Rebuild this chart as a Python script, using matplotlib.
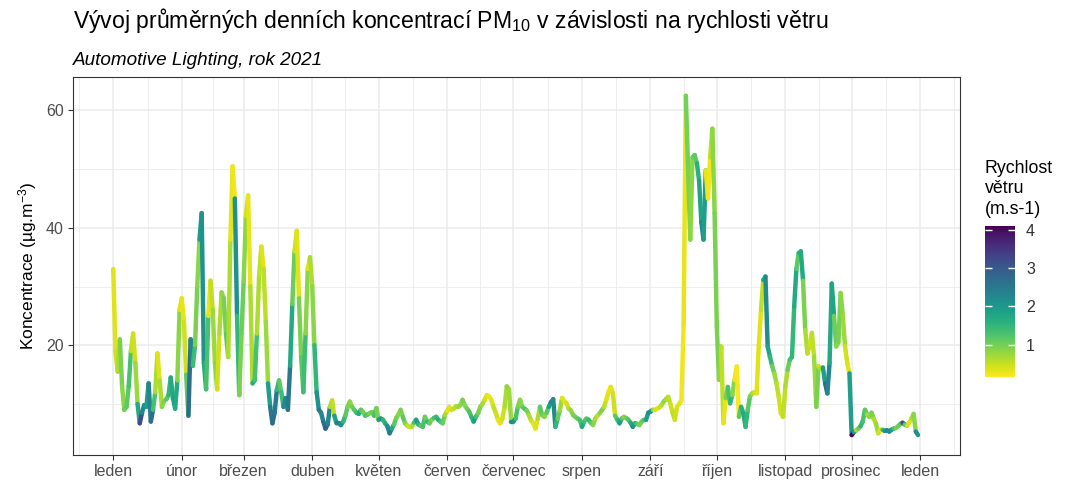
import numpy as np
import matplotlib
matplotlib.use("Agg")
import matplotlib.pyplot as plt
from matplotlib.collections import LineCollection
from matplotlib.colors import Normalize

plt.rcParams['font.family'] = ['Liberation Sans', 'DejaVu Sans']
plt.rcParams['mathtext.fontset'] = 'custom'
plt.rcParams['mathtext.rm'] = 'Liberation Sans'
plt.rcParams['mathtext.it'] = 'Liberation Sans:italic'

# Daily PM10 concentration (ug/m3), 1 Jan 2021 .. 31 Dec 2021
conc = [
    # leden
    33, 19, 15.5, 21, 13, 9, 9.5, 13, 19, 22, 17, 10, 6.7, 8.5, 9.8, 9.5, 13.5, 7, 9, 12,
    18.6, 14, 9.5, 10.5, 10.8, 11.5, 14.5, 11, 9.2, 14, 26,
    # unor
    28, 24, 15, 8, 21, 16.5, 20, 30, 38, 42.5, 17, 12.5, 25, 31, 26, 17, 12.5, 22, 29, 28,
    22, 18, 38, 50.5, 45, 25, 11.5, 22,
    # brezen
    31, 42, 45.5, 30, 13.5, 14, 22, 32, 36.8, 33, 24, 13.5, 9.5, 6.7, 8.5, 12.4, 14, 12, 9.5, 11,
    9, 16.5, 27, 36, 39.5, 28, 18, 12, 22, 33, 35,
    # duben
    30, 20, 12, 9, 8.5, 7, 5.8, 6.5, 9.5, 10.6, 8, 6.7, 6.7, 6.4, 7, 8, 9.5, 10.4, 9.5, 9,
    8.5, 8.3, 9, 8.6, 8.0, 8.2, 8.4, 8.6, 8.0, 9.3,
    # kveten
    7.3, 7.5, 7.3, 6.7, 6.2, 5.0, 5.8, 6.5, 7.6, 8.2, 9.0, 7.8, 6.7, 6.3, 6.1, 6.1, 6.8, 7.3, 6.5, 6.3,
    6.1, 7.8, 7.0, 6.7, 7.3, 7.6, 7.8, 7.3, 7.0, 6.7, 8.1,
    # cerven
    8.8, 9.5, 9.0, 9.2, 9.6, 9.5, 9.8, 10.7, 9.8, 9.2, 8.7, 7.8, 7.0, 7.8, 8.4, 9.5, 10.0, 10.7, 11.5, 11.3,
    10.7, 9.5, 8.5, 7.3, 6.7, 7.5, 9.5, 13, 12.5, 7.0,
    # cervenec
    7.0, 7.5, 9.5, 10.7, 9.5, 9.2, 8.9, 8.1, 7.2, 6.7, 5.8, 7.5, 9.5, 8.1, 7.8, 8.5, 9.5, 10.3, 10.8, 6.1,
    7.5, 8.9, 11.0, 10.5, 10.1, 9.2, 8.9, 8.1, 7.8, 7.5, 7.3,
    # srpen
    6.1, 7.0, 7.5, 7.3, 6.8, 6.4, 7.5, 8.0, 8.4, 8.9, 9.5, 10.7, 12.0, 12.9, 11.8, 8.0, 7.3, 6.7, 7.5, 7.8,
    7.6, 7.3, 6.8, 6.1, 6.7, 6.6, 6.4, 7.0, 7.3, 7.3, 8.5,
    # zari
    8.7, 9.0, 9.0, 9.2, 9.4, 9.8, 10.4, 10.8, 11.2, 10.0, 8.5, 7.3, 9.5, 10.0, 10.6, 23.7, 62.5, 50, 38, 52,
    52.4, 51, 48, 41, 38, 49.8, 45, 52, 56.9, 42.5,
    # rijen
    23.2, 14.1, 19.8, 6.7, 11, 12.9, 10.1, 11.5, 14.1, 16.4, 7.8, 9.5, 8.4, 6.1, 9, 11.3, 11.8, 12, 11.8, 20,
    26, 31.1, 31.7, 19.8, 18.1, 16.5, 15.2, 13.5, 11.2, 8.4, 7.8,
    # listopad
    13, 15.8, 17.5, 18, 26.6, 33, 35.7, 36, 31, 22.6, 18.6, 20, 22.1, 18, 9.5, 16.4, 16, 16.2, 13.5, 11.8,
    17, 30.5, 25, 19.8, 20.5, 28.9, 25, 19.8, 17, 15.2,
    # prosinec
    4.7, 5.2, 5.5, 5.8, 6.2, 7, 9.0, 8.2, 7.8, 8.5, 7.5, 6.6, 5.0, 5.6, 5.6, 5.4, 5.5, 5.3, 5.6, 5.8,
    5.9, 6.2, 6.6, 6.8, 6.5, 6.3, 6.8, 7.5, 8.3, 5.3, 4.7,
]

# Daily mean wind speed (m/s)
wind = [
    # leden
    0.35, 0.45, 0.65, 0.95, 0.85, 1.05, 1.15, 1.3, 0.55, 0.45, 0.75, 1.7, 3.2, 2.3, 2.1, 1.9, 2.3, 2.7, 1.3, 0.65,
    0.35, 0.65, 0.85, 0.95, 1.15, 1.5, 1.7, 1.9, 1.7, 0.85, 0.35,
    # unor
    0.3, 0.45, 1.15, 2.7, 2.3, 1.4, 0.95, 0.85, 1.9, 2.1, 1.7, 1.3, 0.3, 0.55, 0.75, 0.85, 0.45, 0.65, 0.85, 0.95,
    1.15, 0.65, 0.3, 0.25, 2.1, 1.5, 0.95, 1.05,
    # brezen
    0.85, 0.45, 0.3, 0.65, 1.7, 1.3, 0.65, 0.55, 0.35, 0.55, 0.75, 1.9, 2.5, 2.7, 2.5, 1.5, 1.15, 1.4, 2.2, 2.3,
    2.5, 1.7, 1.05, 0.45, 0.35, 0.95, 1.15, 1.4, 0.85, 0.35, 0.65,
    # duben
    0.85, 1.5, 2.1, 2.5, 2.3, 2.6, 2.9, 2.3, 0.65, 0.55, 1.9, 2.5, 2.3, 2.1, 1.5, 1.15, 0.95, 0.85, 1.05, 1.15,
    1.4, 1.7, 1.15, 0.95, 1.3, 1.15, 0.95, 1.05, 1.3, 0.95,
    # kveten
    1.9, 2.1, 1.5, 1.7, 2.2, 2.5, 1.7, 1.15, 0.95, 0.85, 0.95, 1.15, 0.85, 0.55, 0.45, 0.65, 1.3, 1.9, 1.5, 1.15,
    1.3, 1.05, 1.5, 1.05, 0.95, 1.3, 1.5, 1.7, 1.3, 1.05, 0.65,
    # cerven
    0.35, 0.3, 0.45, 0.55, 0.65, 0.75, 0.85, 0.95, 0.85, 1.05, 1.3, 1.5, 1.9, 1.3, 0.95, 0.85, 0.65, 0.45, 0.3, 0.25,
    0.35, 0.55, 0.45, 0.3, 0.35, 0.45, 0.65, 0.85, 0.75, 2.2,
    # cervenec
    2.1, 1.3, 0.95, 0.85, 1.05, 1.3, 0.95, 0.65, 0.45, 0.3, 0.35, 0.65, 1.15, 1.05, 0.85, 1.15, 1.9, 2.3, 2.2, 1.5,
    1.05, 0.75, 0.35, 0.3, 0.45, 0.65, 0.85, 0.95, 1.05, 1.15, 1.3,
    # srpen
    1.7, 1.3, 1.15, 1.5, 1.15, 0.85, 0.65, 0.55, 0.85, 0.95, 0.55, 0.35, 0.3, 0.3, 0.45, 1.15, 1.5, 1.9, 1.15, 0.85,
    1.05, 1.3, 1.7, 2.1, 1.5, 1.15, 0.95, 1.05, 1.3, 1.9, 2.2,
    # zari
    2.1, 0.65, 0.45, 0.35, 0.45, 0.65, 0.85, 0.65, 0.55, 0.45, 0.55, 0.45, 0.35, 0.3, 0.25, 0.3, 1.0, 0.95, 0.85, 1.05,
    1.15, 1.6, 1.8, 2.3, 1.9, 0.3, 0.25, 0.55, 0.85, 0.95,
    # rijen
    0.95, 0.85, 0.55, 0.3, 0.95, 1.3, 1.5, 0.85, 0.25, 0.2, 1.15, 1.6, 1.7, 1.5, 1.15, 0.95, 0.65, 0.45, 0.35, 0.35,
    0.55, 1.7, 2.2, 1.8, 1.5, 1.05, 0.75, 0.55, 0.45, 0.45, 0.55,
    # listopad
    0.65, 1.05, 1.3, 1.5, 1.7, 1.15, 1.5, 1.7, 0.95, 0.65, 0.55, 0.45, 0.55, 0.75, 0.95, 0.45, 0.65, 1.9, 2.7, 2.3,
    1.7, 1.8, 1.05, 0.85, 0.95, 0.85, 0.75, 0.45, 0.35, 1.9,
    # prosinec
    4.0, 1.9, 0.65, 1.05, 1.5, 1.3, 1.15, 0.65, 0.85, 0.95, 0.65, 0.75, 0.45, 0.35, 1.5, 2.1, 2.3, 2.2, 1.9, 1.3,
    0.95, 1.05, 1.15, 3.2, 1.15, 0.45, 0.35, 0.65, 0.85, 2.1, 2.3,
]

days = np.arange(len(conc))  # 0 = 1. ledna 2021

month_labels = ["leden", "únor", "březen", "duben", "květen", "červen", "červenec",
                "srpen", "září", "říjen", "listopad", "prosinec", "leden"]
month_starts = [0, 31, 59, 90, 120, 151, 181, 212, 243, 273, 304, 334, 365]

title = "Vývoj průměrných denních koncentrací PM$_{10}$ v závislosti na rychlosti větru"
subtitle = "Automotive Lighting, rok 2021"
ylabel = "Koncentrace (µg.m$^{-3}$)"
legend_title = "Rychlost\nvětru\n(m.s-1)"

W, H = 1067, 484
fig = plt.figure(figsize=(W / 100, H / 100), dpi=100)
ax = fig.add_axes([73 / W, 1 - 455 / H, (960 - 73) / W, (455 - 77) / H])

x = np.asarray(days, dtype=float)
y = np.asarray(conc, dtype=float)
w = np.asarray(wind, dtype=float)
pts = np.column_stack([x, y]).reshape(-1, 1, 2)
segs = np.concatenate([pts[:-1], pts[1:]], axis=1)
norm = Normalize(vmin=0.16, vmax=4.1)
lc = LineCollection(segs, cmap='viridis_r', norm=norm, linewidths=3.2,
                    capstyle='round', joinstyle='round', zorder=3)
lc.set_array(w[:-1])
ax.add_collection(lc)

ax.set_xlim(-18.2, 383)
ax.set_ylim(1.3, 65.7)

# grid
grid_c = '#EBEBEB'
ax.set_xticks(month_starts)
ax.set_xticklabels(month_labels)
ext = [-31] + month_starts + [396]
ax.set_xticks([(a + b) / 2 for a, b in zip(ext[:-1], ext[1:])], minor=True)
ax.set_yticks([20, 40, 60])
ax.set_yticks([10, 30, 50], minor=True)
ax.grid(which='major', color=grid_c, linewidth=1.1, zorder=0)
ax.grid(which='minor', color=grid_c, linewidth=0.6, zorder=0)
ax.set_axisbelow(True)
for s in ax.spines.values():
    s.set_color('#333333')
    s.set_linewidth(0.8)
ax.tick_params(which='major', length=3.5, width=0.8, color='#333333',
               labelsize=11.5, labelcolor='#4D4D4D', pad=3)
ax.tick_params(which='minor', length=0)
ax.set_ylabel(ylabel, fontsize=12.5, color='black', labelpad=5)

fig.text(73 / W, 1 - 28 / H, title, fontsize=16.6, ha='left', va='baseline')
fig.text(73 / W, 1 - 65 / H, subtitle, fontsize=13.6, style='italic', ha='left', va='baseline')

# colorbar
cax = fig.add_axes([985 / W, 1 - 377 / H, 30 / W, 151 / H])
cb = fig.colorbar(lc, cax=cax, ticks=[1, 2, 3, 4])
cb.outline.set_visible(False)
cax.yaxis.set_ticks_position('both')
cax.tick_params(direction='in', color='white', length=5, width=1,
                labelsize=11.5, labelcolor='#333333', labelleft=False, labelright=True, pad=8)
fig.text(985 / W, 1 - 160 / H, legend_title, fontsize=12.8, ha='left', va='top', linespacing=1.25)

fig.savefig("out.png", dpi=100)
